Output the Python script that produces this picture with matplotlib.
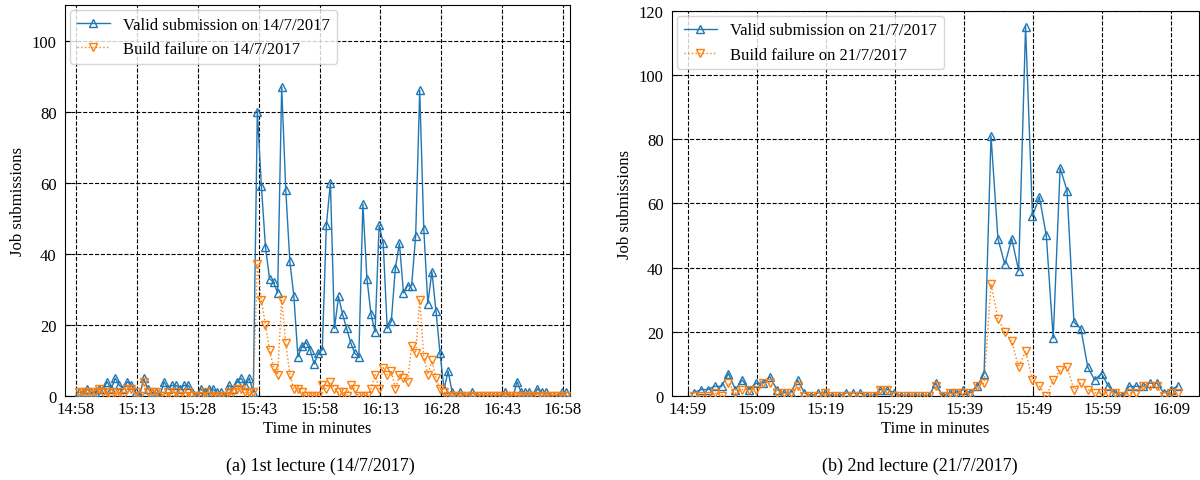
import matplotlib
matplotlib.use('Agg')
import matplotlib.pyplot as plt
import numpy as np

plt.rcParams['font.family'] = ['Liberation Serif', 'DejaVu Serif']
plt.rcParams['mathtext.fontset'] = 'stix'

# lecture 1 (14/7/2017), one value per minute, first sample 14:58:41
t0_a = 0.68
valid_a = [1, 1, 2, 1, 1, 2, 2, 4, 2, 5, 3, 2, 4, 3, 1, 0, 5, 2, 1, 1,
           0, 4, 2, 3, 3, 2, 3, 3, 1, 0, 2, 1, 2, 2, 1, 1, 0, 3, 2, 4,
           5, 3, 5, 1, 80, 59, 42, 33, 32, 29, 87, 58, 38, 28, 11, 14, 15, 13, 9, 12,
           13, 48, 60, 19, 28, 23, 19, 15, 12, 11, 54, 33, 23, 18, 48, 43, 19, 21, 36, 43,
           29, 31, 31, 45, 86, 47, 26, 35, 24, 12, 2, 7, 1, 0, 1, 0, 0, 1, 0, 0,
           0, 0, 0, 0, 0, 1, 0, 0, 4, 1, 1, 1, 0, 2, 1, 1, 0, 0, 0, 1, 1]
fail_a = [1, 1, 1, 1, 1, 2, 1, 1, 0, 1, 1, 0, 2, 2, 1, 0, 4, 1, 1, 1,
          0, 0, 1, 0, 1, 0, 0, 1, 0, 0, 0, 1, 0, 0, 0, 0, 0, 1, 1, 2,
          2, 1, 1, 1, 37, 27, 20, 13, 8, 6, 27, 15, 6, 2, 2, 1, 0, 0, 0, 0,
          3, 2, 4, 2, 1, 1, 0, 3, 2, 0, 0, 0, 2, 6, 2, 8, 6, 7, 2, 6,
          5, 4, 14, 12, 27, 11, 6, 10, 5, 2, 1, 0, 0, 0, 0, 0, 0, 0, 0, 0,
          0, 0, 0, 0, 0, 0, 0, 0, 0, 0, 0, 0, 0, 0, 0, 0, 0, 0, 0, 0, 0]
ticks_a = ['14:58', '15:13', '15:28', '15:43', '15:58', '16:13', '16:28', '16:43', '16:58']

# lecture 2 (21/7/2017), first sample 14:59:54
t0_b = 0.9
valid_b = [1, 2, 2, 3, 3, 7, 2, 5, 2, 4, 4, 6, 2, 1, 1, 5, 1, 0, 1, 1,
           0, 0, 1, 1, 1, 0, 0, 2, 2, 1, 0, 0, 0, 0, 0, 4, 0, 1, 1, 2,
           1, 3, 7, 81, 49, 41, 49, 39, 115, 56, 62, 50, 18, 71, 64, 23, 21, 9, 5, 7,
           3, 1, 0, 3, 3, 3, 4, 4, 1, 2, 3]
fail_b = [0, 0, 0, 1, 0, 4, 1, 2, 2, 2, 4, 4, 1, 1, 1, 3, 0, 0, 0, 1,
          0, 0, 0, 0, 0, 0, 0, 2, 2, 0, 0, 0, 0, 0, 0, 3, 0, 1, 1, 1,
          1, 3, 4, 35, 24, 20, 17, 9, 14, 5, 3, 0, 5, 8, 9, 2, 4, 2, 1, 1,
          1, 1, 0, 1, 1, 3, 3, 3, 0, 1, 1]
ticks_b = ['14:59', '15:09', '15:19', '15:29', '15:39', '15:49', '15:59', '16:09']

fig = plt.figure(figsize=(12, 4.81), dpi=100)
ax1 = fig.add_axes([65 / 1200, 1 - 397 / 481, 505 / 1200, 391 / 481])
ax2 = fig.add_axes([672 / 1200, 1 - 397 / 481, 527 / 1200, 385.3 / 481])


def draw(ax, t0, valid, fail, ticks, step, date, xlim, ylim, yticks):
    t = t0 + np.arange(len(valid))
    ax.plot(t, valid, '-', marker='^', color='tab:blue', lw=1, ms=6,
            mfc='none', mew=1, label='Valid submission on ' + date, zorder=3)
    ax.plot(t, fail, ':', marker='v', color='tab:orange', lw=1, ms=6,
            mfc='none', mew=1, label='Build failure on ' + date, zorder=4)
    ax.set_xticks(np.arange(len(ticks)) * step)
    ax.set_xticklabels(ticks)
    ax.set_yticks(yticks)
    ax.set_xlim(*xlim)
    ax.set_ylim(*ylim)
    ax.grid(True, color='k', ls='--', lw=0.8)
    ax.set_axisbelow(True)
    ax.tick_params(direction='in', labelsize=12, length=4)
    ax.tick_params(axis='y', pad=6)
    ax.set_xlabel('Time in minutes', fontsize=12, labelpad=2)
    ax.set_ylabel('Job submissions', fontsize=12)
    ax.legend(loc='upper left', fontsize=12, handlelength=2, borderaxespad=0.3)


draw(ax1, t0_a, valid_a, fail_a, ticks_a, 15, '14/7/2017', (-2.7, 121.7), (0, 110), range(0, 101, 20))
draw(ax2, t0_b, valid_b, fail_b, ticks_b, 10, '21/7/2017', (-2.27, 74.0), (0, 120), range(0, 121, 20))

fig.text(320 / 1200, 1 - 466 / 481, '(a) 1st lecture (14/7/2017)', ha='center', va='center', fontsize=13)
fig.text(920 / 1200, 1 - 466 / 481, '(b) 2nd lecture (21/7/2017)', ha='center', va='center', fontsize=13)

fig.savefig('out.png', dpi=100)
